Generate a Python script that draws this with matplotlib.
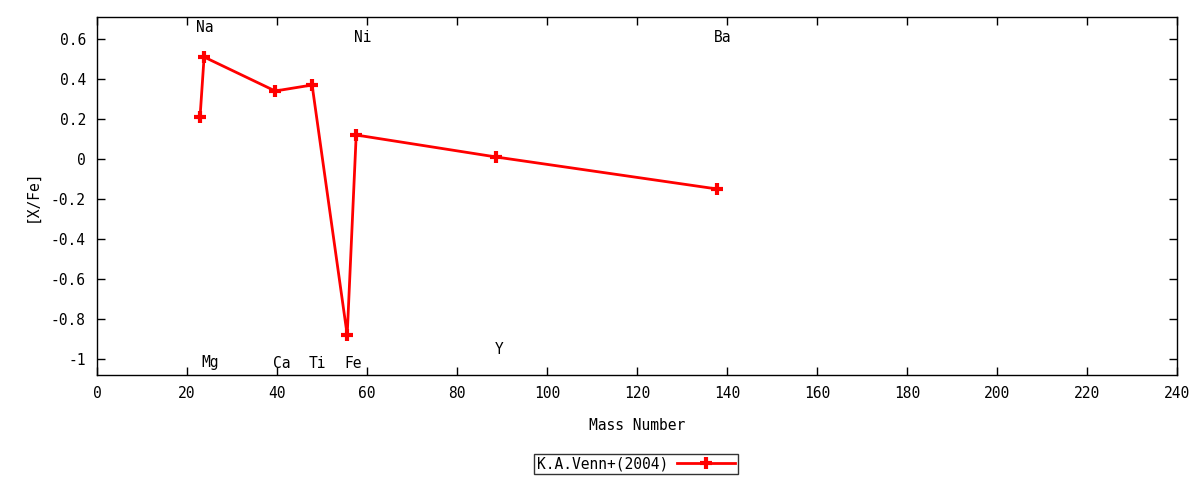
import matplotlib
matplotlib.use("Agg")
import matplotlib.pyplot as plt

# Data
elements = ["Na", "Mg", "Ca", "Ti", "Fe", "Ni", "Y", "Ba"]
mass_number = [22.9, 23.8, 39.6, 47.8, 55.6, 57.6, 88.7, 137.8]
x_fe = [0.21, 0.51, 0.34, 0.37, -0.88, 0.12, 0.01, -0.15]
label_names = ["Na", "Mg", "Ca", "Ti", "Fe", "Ni", "Y", "Ba"]
label_x = [24.0, 25.1, 41.0, 49.0, 57.0, 59.0, 89.3, 139.0]
label_y = [0.66, -1.02, -1.02, -1.02, -1.02, 0.605, -0.95, 0.605]
series_name = "K.A.Venn+(2004)"
xticks = list(range(0, 241, 20))
yticks = [0.6, 0.4, 0.2, 0, -0.2, -0.4, -0.6, -0.8, -1]
ytick_labels = ["0.6", "0.4", "0.2", "0", "-0.2", "-0.4", "-0.6", "-0.8", "-1"]

plt.rcParams['font.family'] = ['DejaVu Sans Mono']
plt.rcParams['font.size'] = 10.5

fig = plt.figure(figsize=(12, 4.8), dpi=100)
ax = fig.add_axes([97/1200, 1-375/480, (1177-97)/1200, (375-17)/480])

line, = ax.plot(mass_number, x_fe, color='red', lw=2, marker='+', ms=9,
                mew=3, label=series_name)

for name, lx, ly in zip(label_names, label_x, label_y):
    ax.text(lx, ly, name, ha='center', va='center')

ax.set_xlim(0, 240)
ax.set_ylim(-1.08, 0.71)
ax.set_xticks(xticks)
ax.set_yticks(yticks)
ax.set_yticklabels(ytick_labels)
ax.tick_params(direction='in', top=True, right=True, length=6, width=1, pad=8)
for s in ax.spines.values():
    s.set_linewidth(1)
ax.set_xlabel("Mass Number", labelpad=12)
ax.set_ylabel("[X/Fe]", labelpad=8)

leg = fig.legend(handles=[line], loc='center', bbox_to_anchor=(636/1200, 1-464/480),
                 markerfirst=False, frameon=True, fancybox=False, numpoints=1,
                 handlelength=4, handletextpad=0.6, borderpad=0.2,
                 edgecolor='black')
leg.get_frame().set_linewidth(1)

fig.savefig("out.png", dpi=100)
